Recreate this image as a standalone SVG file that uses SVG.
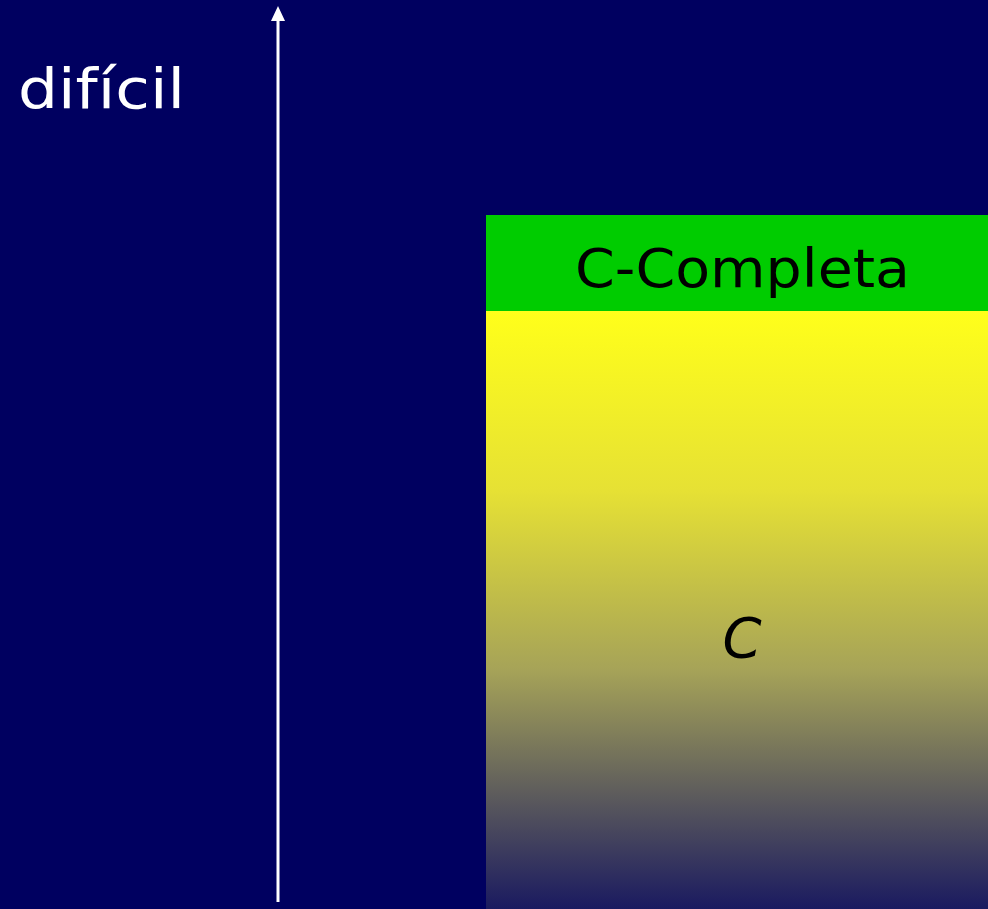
<svg xmlns="http://www.w3.org/2000/svg" width="988" height="909" viewBox="0 0 988 909">
  <defs>
    <linearGradient id="fade" x1="0" y1="0" x2="0" y2="1">
      <stop offset="0" stop-color="#ffff1a"/>
      <stop offset="0.3" stop-color="#e6e134"/>
      <stop offset="0.6" stop-color="#a6a358"/>
      <stop offset="1" stop-color="#1a1a60"/>
    </linearGradient>
    <style>
      .lbl { font-family: "Comic Sans MS", "DejaVu Sans", "Liberation Sans", sans-serif; }
    </style>
  </defs>
  <rect width="988" height="909" fill="#000060"/>

  <g id="axis-label">
    <text class="lbl" x="18" y="108" font-size="56" fill="#ffffff" textLength="167" lengthAdjust="spacingAndGlyphs">difícil</text>
  </g>

  <g id="class-c">
    <rect x="486" y="311" width="502" height="598" fill="url(#fade)"/>
    <text class="lbl" x="742" y="657" font-size="56" font-style="italic" text-anchor="middle" fill="#000000">C</text>
  </g>

  <g id="class-c-completa">
    <rect x="486" y="215" width="502" height="96" fill="#00cc00"/>
    <text class="lbl" x="575" y="287" font-size="54" fill="#000000" textLength="335" lengthAdjust="spacingAndGlyphs">C-Completa</text>
  </g>

  <!-- vertical difficulty axis with arrowhead -->
  <g id="connectors">
    <line x1="278" y1="902" x2="278" y2="18" stroke="#ffffff" stroke-width="3"/>
    <polygon points="278,6 271,21 285,21" fill="#ffffff"/>
  </g>
</svg>
